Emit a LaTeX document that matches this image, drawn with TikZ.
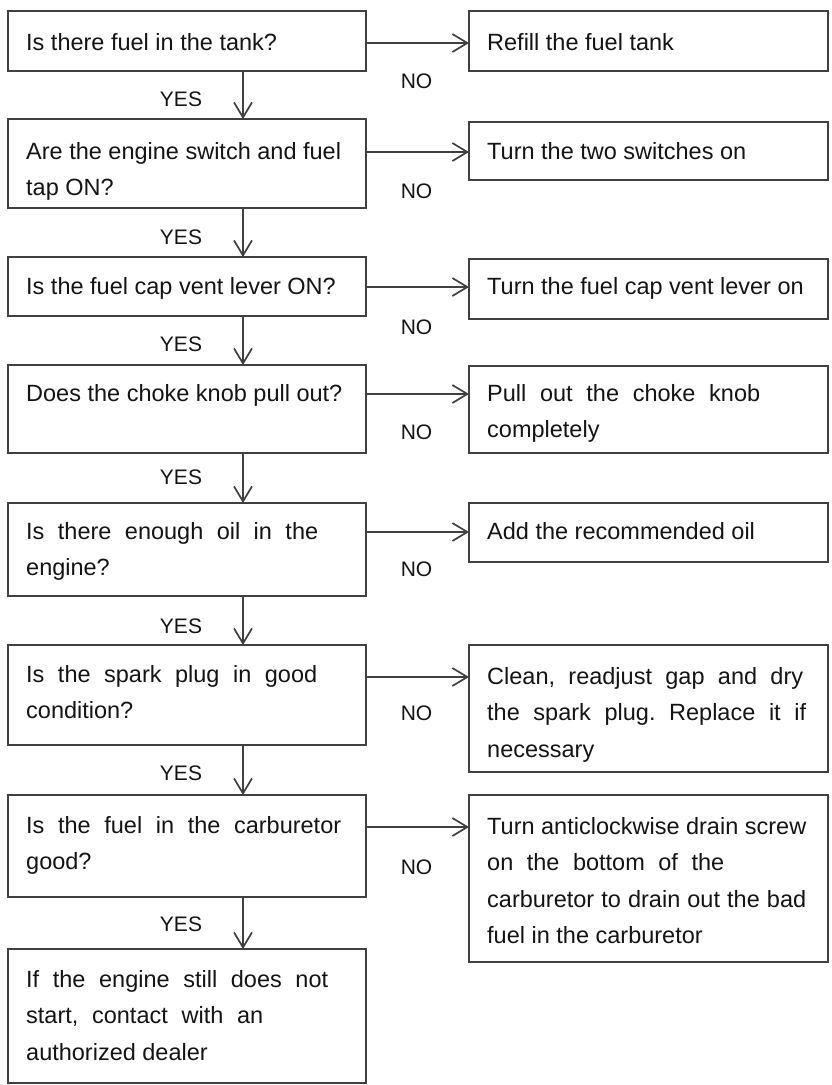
\documentclass[tikz,border=0pt]{standalone}
\usepackage{fontspec}
\setmainfont{Liberation Sans}
\frenchspacing
\usetikzlibrary{arrows.meta}
\definecolor{linec}{HTML}{404040}
\definecolor{textc}{HTML}{141414}
\begin{document}
\begin{tikzpicture}[x=1pt,y=-1pt,
  box/.style={draw=linec, line width=1.7pt, rectangle, inner sep=0pt, outer sep=0pt, anchor=north west},
  lbox/.style={box, minimum width=358pt},
  rbox/.style={box, minimum width=359pt},
  txt/.style={anchor=north west, inner sep=0pt, align=left, text=textc, font=\fontsize{23.5}{36.5}\selectfont},
  lab/.style={inner sep=0pt, text=textc, font=\fontsize{21}{25}\selectfont},
  arr/.style={draw=linec, line width=1.7pt, -{Straight Barb[length=15pt,width=18pt]}}]
\useasboundingbox[fill=white] (0,0) rectangle (831,1085);

% left question boxes
\node[lbox, minimum height=60pt]  (L1) at (8,11) {};
\node[lbox, minimum height=89pt]  (L2) at (8,119) {};
\node[lbox, minimum height=59pt]  (L3) at (8,257) {};
\node[lbox, minimum height=88pt]  (L4) at (8,365) {};
\node[lbox, minimum height=93pt]  (L5) at (8,503) {};
\node[lbox, minimum height=100pt] (L6) at (8,645) {};
\node[lbox, minimum height=102pt] (L7) at (8,795) {};
\node[lbox, minimum height=134pt] (L8) at (8,949) {};

% right action boxes
\node[rbox, minimum height=60pt]  (R1) at (469,11) {};
\node[rbox, minimum height=58pt]  (R2) at (469,122) {};
\node[rbox, minimum height=60pt]  (R3) at (469,259) {};
\node[rbox, minimum height=87pt]  (R4) at (469,366) {};
\node[rbox, minimum height=59pt]  (R5) at (469,503) {};
\node[rbox, minimum height=127pt] (R6) at (469,645) {};
\node[rbox, minimum height=167pt] (R7) at (469,795) {};

% left texts
\node[txt] (tL1) at ([xshift=18pt,yshift=-13.45pt]L1.north west) {\strut Is there fuel in the tank?};
\node[txt] (tL2) at ([xshift=18pt,yshift=-14.45pt]L2.north west) {\strut Are the engine switch and fuel\\tap ON?};
\node[txt] (tL3) at ([xshift=18pt,yshift=-11.45pt]L3.north west) {\strut Is the fuel cap vent lever ON?};
\node[txt] (tL4) at ([xshift=18pt,yshift=-10.45pt]L4.north west) {\strut Does the choke knob pull out?};
\node[txt] (tL5) at ([xshift=18pt,yshift=-10.45pt]L5.north west) {\strut\makebox[292pt][s]{Is there enough oil in the}\\engine?};
\node[txt] (tL6) at ([xshift=18pt,yshift=-11.45pt]L6.north west) {\strut\makebox[291pt][s]{Is the spark plug in good}\\condition?};
\node[txt] (tL7) at ([xshift=18pt,yshift=-12.45pt]L7.north west) {\strut\makebox[315pt][s]{Is the fuel in the carburetor}\\good?};
\node[txt] (tL8) at ([xshift=18pt,yshift=-12.45pt]L8.north west) {\strut\makebox[302pt][s]{If the engine still does not}\\\makebox[237pt][s]{start, contact with an}\\authorized dealer};

% right texts
\node[txt] (tR1) at ([xshift=18pt,yshift=-13.45pt]R1.north west) {\strut Refill the fuel tank};
\node[txt] (tR2) at ([xshift=18pt,yshift=-11.45pt]R2.north west) {\strut Turn the two switches on};
\node[txt] (tR3) at ([xshift=18pt,yshift=-9.45pt]R3.north west) {\strut Turn the fuel cap vent lever on};
\node[txt] (tR4) at ([xshift=18pt,yshift=-9.45pt]R4.north west) {\strut\makebox[273pt][s]{Pull out the choke knob}\\completely};
\node[txt] (tR5) at ([xshift=18pt,yshift=-10.45pt]R5.north west) {\strut Add the recommended oil};
\node[txt] (tR6) at ([xshift=18pt,yshift=-13.45pt]R6.north west) {\strut\makebox[316pt][s]{Clean, readjust gap and dry}\\\makebox[319pt][s]{the spark plug. Replace it if}\\necessary};
\node[txt] (tR7) at ([xshift=18pt,yshift=-13.45pt]R7.north west) {\strut Turn anticlockwise drain screw\\\makebox[237pt][s]{on the bottom of the}\\\makebox[319pt][s]{carburetor to drain out the bad}\\fuel in the carburetor};

% NO arrows
\coordinate (h1) at ([yshift=-32pt]L1.north east);
\coordinate (h2) at ([yshift=-33pt]L2.north east);
\coordinate (h3) at ([yshift=-30pt]L3.north east);
\coordinate (h4) at ([yshift=-29pt]L4.north east);
\coordinate (h5) at ([yshift=-29pt]L5.north east);
\coordinate (h6) at ([yshift=-32pt]L6.north east);
\coordinate (h7) at ([yshift=-32pt]L7.north east);
\draw[arr] (h1) -- (h1 -| R1.west);
\draw[arr] (h2) -- (h2 -| R2.west);
\draw[arr] (h3) -- (h3 -| R3.west);
\draw[arr] (h4) -- (h4 -| R4.west);
\draw[arr] (h5) -- (h5 -| R5.west);
\draw[arr] (h6) -- (h6 -| R6.west);
\draw[arr] (h7) -- (h7 -| R7.west);

% YES arrows
\draw[arr] ([xshift=56pt]L1.south) -- ([xshift=56pt]L2.north);
\draw[arr] ([xshift=56pt]L2.south) -- ([xshift=56pt]L3.north);
\draw[arr] ([xshift=56pt]L3.south) -- ([xshift=56pt]L4.north);
\draw[arr] ([xshift=56pt]L4.south) -- ([xshift=56pt]L5.north);
\draw[arr] ([xshift=56pt]L5.south) -- ([xshift=56pt]L6.north);
\draw[arr] ([xshift=56pt]L6.south) -- ([xshift=56pt]L7.north);
\draw[arr] ([xshift=56pt]L7.south) -- ([xshift=56pt]L8.north);

% YES labels
\node[lab] (y1) at (181,99)  {YES};
\node[lab] (y2) at (181,237) {YES};
\node[lab] (y3) at (181,344) {YES};
\node[lab] (y4) at (181,477) {YES};
\node[lab] (y5) at (181,626) {YES};
\node[lab] (y6) at (181,773) {YES};
\node[lab] (y7) at (181,924) {YES};

% NO labels
\node[lab] (n1) at (416.5,81)  {NO};
\node[lab] (n2) at (416.5,191) {NO};
\node[lab] (n3) at (416.5,327) {NO};
\node[lab] (n4) at (416.5,432) {NO};
\node[lab] (n5) at (416.5,569) {NO};
\node[lab] (n6) at (416.5,713) {NO};
\node[lab] (n7) at (416.5,867) {NO};
\end{tikzpicture}
\end{document}
